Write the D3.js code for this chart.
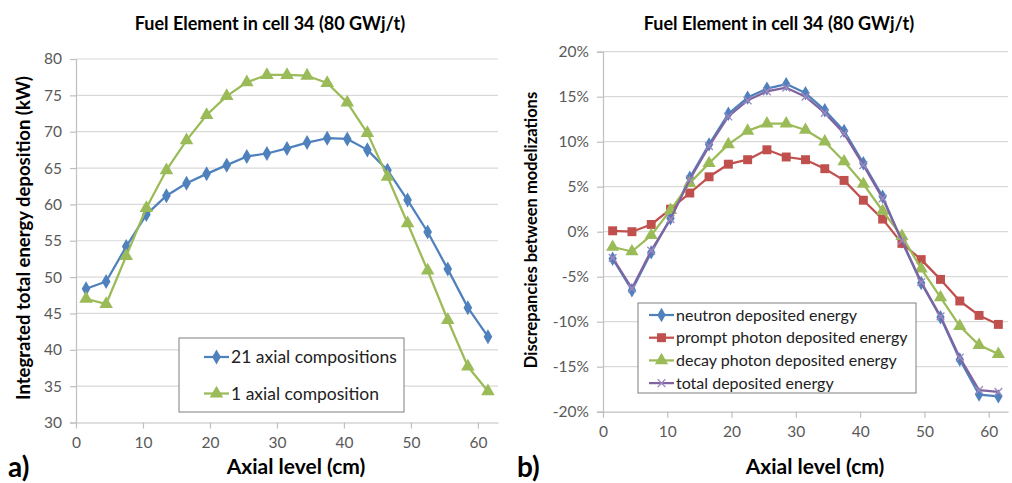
<!DOCTYPE html>
<html>
<head>
<meta charset="utf-8">
<script src="https://cdn.jsdelivr.net/npm/d3@7"></script>
<style>
  body { margin: 0; background: #fff; }
  text { font-family: Lato, "Open Sans", sans-serif; }
</style>
</head>
<body>
<div id="chart"></div>
<script>
// axial positions of the 21 cells (cm)
const axialLevels = [1.5, 4.5, 7.5, 10.5, 13.5, 16.5, 19.5, 22.5, 25.5, 28.5, 31.5,
  34.5, 37.5, 40.5, 43.5, 46.5, 49.5, 52.5, 55.5, 58.5, 61.5];

// panel a) integrated total energy deposition (kW)
const compositions21 = [48.4, 49.4, 54.2, 58.6, 61.2, 62.9, 64.2, 65.4, 66.6, 67.0, 67.7,
  68.5, 69.1, 69.0, 67.5, 64.7, 60.6, 56.2, 51.1, 45.8, 41.8];
const composition1 = [47.0, 46.3, 52.9, 59.5, 64.7, 68.8, 72.3, 74.9, 76.8, 77.8, 77.8,
  77.7, 76.7, 74.0, 69.8, 63.8, 57.4, 50.9, 44.1, 37.7, 34.3];

// panel b) discrepancies between modelizations (%)
const neutronEnergy = [-3.0, -6.5, -2.3, 1.5, 6.0, 9.7, 13.1, 14.9, 15.9, 16.4, 15.4,
  13.5, 11.2, 7.6, 3.9, -1.1, -5.7, -9.5, -14.2, -18.1, -18.3];
const promptPhotonEnergy = [0.1, 0.0, 0.8, 2.5, 4.3, 6.1, 7.5, 8.0, 9.1, 8.3, 8.0,
  7.0, 5.7, 3.5, 1.4, -1.3, -3.1, -5.3, -7.7, -9.3, -10.3];
const decayPhotonEnergy = [-1.7, -2.2, -0.4, 2.4, 5.4, 7.6, 9.7, 11.2, 12.0, 12.0, 11.3,
  10.0, 7.8, 5.3, 2.3, -0.5, -4.1, -7.3, -10.5, -12.6, -13.6];
const totalEnergy = [-2.9, -6.3, -2.1, 1.4, 5.8, 9.5, 12.8, 14.6, 15.6, 16.0, 15.0,
  13.2, 10.9, 7.4, 3.7, -1.0, -5.6, -9.4, -14.0, -17.6, -17.8];

// ticks
const xTicks = [0, 10, 20, 30, 40, 50, 60];
const yTicksA = [30, 35, 40, 45, 50, 55, 60, 65, 70, 75, 80];
const yTicksB = [-20, -15, -10, -5, 0, 5, 10, 15, 20];

const chartTitle = 'Fuel Element in cell 34 (80 GWj/t)';

// custom "x" marker like Excel's
const symbolCross = {
  draw(ctx, size) {
    const r = Math.sqrt(size) / 2;
    ctx.moveTo(-r, -r); ctx.lineTo(r, r);
    ctx.moveTo(r, -r); ctx.lineTo(-r, r);
  }
};

const svg = d3.select('#chart').append('svg')
  .attr('width', 1012)
  .attr('height', 483);

function drawPanel(cfg) {
  const g = svg.append('g');

  const x = d3.scaleLinear().domain([0, 63]).range([cfg.left, cfg.right]);
  const y = d3.scaleLinear().domain(cfg.yDomain).range([cfg.bottom, cfg.top]);

  // gridlines
  g.append('g')
    .selectAll('line')
    .data(cfg.yTicks.filter(d => d !== cfg.yDomain[0]))
    .join('line')
    .attr('x1', cfg.left).attr('x2', cfg.right)
    .attr('y1', d => y(d)).attr('y2', d => y(d))
    .attr('stroke', '#d9d9d9')
    .attr('stroke-width', 1.2);

  // axes
  const yAxis = d3.axisLeft(y).tickValues(cfg.yTicks).tickSize(6).tickPadding(8)
    .tickFormat(cfg.yFormat);
  const yAxisG = g.append('g').attr('transform', `translate(${cfg.left},0)`).call(yAxis);

  const xAxis = d3.axisBottom(x).tickValues(xTicks).tickSizeInner(6).tickSizeOuter(0)
    .tickPadding(8);
  const xAxisG = g.append('g').attr('transform', `translate(0,${cfg.bottom})`).call(xAxis);

  [yAxisG, xAxisG].forEach(a => {
    a.select('.domain').attr('stroke', '#bfbfbf').attr('stroke-width', 1.2);
    a.selectAll('.tick line').attr('stroke', '#bfbfbf').attr('stroke-width', 1.2);
    a.selectAll('.tick text').attr('fill', '#595959').style('font-size', '15.5px');
  });
  xAxisG.selectAll('.tick line').attr('y1', 0);

  // series
  const line = d3.line().x((d, i) => x(axialLevels[i])).y(d => y(d));
  cfg.series.forEach(s => {
    g.append('path')
      .datum(s.values)
      .attr('fill', 'none')
      .attr('stroke', s.color)
      .attr('stroke-width', 2.25)
      .attr('stroke-linejoin', 'round')
      .attr('d', line);

    g.append('g')
      .selectAll('path')
      .data(s.values)
      .join('path')
      .attr('transform', (d, i) => `translate(${x(axialLevels[i])},${y(d)})`)
      .attr('d', d3.symbol().type(s.symbol).size(s.size))
      .attr('fill', s.symbol === symbolCross ? 'none' : s.color)
      .attr('stroke', s.symbol === symbolCross ? s.markerStroke : 'none')
      .attr('stroke-width', 1.3);
  });

  // title and axis labels
  svg.append('text')
    .attr('x', cfg.titleX).attr('y', 30)
    .attr('text-anchor', 'middle')
    .style('font-size', '18px').style('font-weight', 'bold')
    .text(chartTitle);

  svg.append('text')
    .attr('x', cfg.xLabelX).attr('y', 474)
    .attr('text-anchor', 'middle')
    .style('font-size', '21px').style('font-weight', 'bold')
    .text('Axial level (cm)');

  svg.append('text')
    .attr('transform', `translate(${cfg.yLabelX},${cfg.yLabelY}) rotate(-90)`)
    .attr('text-anchor', 'middle')
    .style('font-size', cfg.yLabelSize).style('font-weight', 'bold')
    .text(cfg.yLabel);

  svg.append('text')
    .attr('x', cfg.tagX).attr('y', 477)
    .style('font-size', '28px').style('font-weight', 'bold')
    .text(cfg.tag);

  // legend
  const lg = g.append('g');
  lg.append('rect')
    .attr('x', cfg.legend.x).attr('y', cfg.legend.y)
    .attr('width', cfg.legend.w).attr('height', cfg.legend.h)
    .attr('fill', '#fff').attr('stroke', '#7f7f7f').attr('stroke-width', 1);

  cfg.series.forEach((s, i) => {
    const ly = cfg.legend.y + cfg.legend.first + i * cfg.legend.step;
    const lx = cfg.legend.x + cfg.legend.pad;
    lg.append('line')
      .attr('x1', lx).attr('x2', lx + 25)
      .attr('y1', ly).attr('y2', ly)
      .attr('stroke', s.color).attr('stroke-width', 2.25);
    lg.append('path')
      .attr('transform', `translate(${lx + 12.5},${ly})`)
      .attr('d', d3.symbol().type(s.symbol).size(s.size))
      .attr('fill', s.symbol === symbolCross ? 'none' : s.color)
      .attr('stroke', s.symbol === symbolCross ? s.markerStroke : 'none')
      .attr('stroke-width', 1.3);
    lg.append('text')
      .attr('x', lx + 27).attr('y', ly)
      .attr('dy', '0.35em')
      .attr('fill', '#222')
      .style('font-size', cfg.legend.fontSize)
      .text(s.name);
  });
}

drawPanel({
  left: 76, right: 498, top: 59, bottom: 422.5,
  yDomain: [30, 80], yTicks: yTicksA, yFormat: d3.format('d'),
  titleX: 270, xLabelX: 296,
  yLabel: 'Integrated total energy deposition (kW)', yLabelX: 30, yLabelY: 238, yLabelSize: '18.5px',
  tag: 'a)', tagX: 8,
  legend: { x: 179, y: 338, w: 225, h: 74, first: 19, step: 36.5, pad: 25, fontSize: '17.5px' },
  series: [
    { name: '21 axial compositions', values: compositions21, color: '#4f81bd', symbol: d3.symbolDiamond, size: 65 },
    { name: '1 axial composition', values: composition1, color: '#9bbb59', symbol: d3.symbolTriangle, size: 80 }
  ]
});

drawPanel({
  left: 603, right: 1008, top: 51.7, bottom: 411.7,
  yDomain: [-20, 20], yTicks: yTicksB, yFormat: d => d + '%',
  titleX: 779, xLabelX: 815,
  yLabel: 'Discrepancies between modelizations', yLabelX: 537, yLabelY: 230, yLabelSize: '16.5px',
  tag: 'b)', tagX: 517,
  legend: { x: 638, y: 303, w: 278, h: 90, first: 12, step: 22.7, pad: 11, fontSize: '16px' },
  series: [
    { name: 'neutron deposited energy', values: neutronEnergy, color: '#4f81bd', symbol: d3.symbolDiamond, size: 60 },
    { name: 'prompt photon deposited energy', values: promptPhotonEnergy, color: '#c0504d', symbol: d3.symbolSquare, size: 80 },
    { name: 'decay photon deposited energy', values: decayPhotonEnergy, color: '#9bbb59', symbol: d3.symbolTriangle, size: 75 },
    { name: 'total deposited energy', values: totalEnergy, color: '#8064a2', symbol: symbolCross, size: 60, markerStroke: '#9f8ac0' }
  ]
});
</script>
</body>
</html>
